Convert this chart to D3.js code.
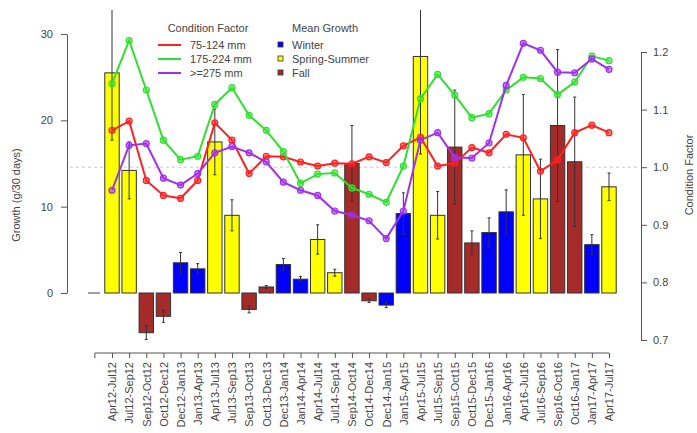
<!DOCTYPE html>
<html>
<head>
<meta charset="utf-8">
<script src="https://cdn.jsdelivr.net/npm/d3@7"></script>
<style>
  body { margin: 0; background: #fff; }
  svg { font-family: "Liberation Sans", Arial, sans-serif; }
  .axis text { fill: #444; font-size: 11px; }
  .axis line, .axis path { stroke: #555; }
</style>
</head>
<body>
<div id="chart"></div>
<script>
"use strict";

var periods = ["Apr12-Jul12", "Jul12-Sep12", "Sep12-Oct12", "Oct12-Dec12", "Dec12-Jan13",
  "Jan13-Apr13", "Apr13-Jul13", "Jul13-Sep13", "Sep13-Oct13", "Oct13-Dec13",
  "Dec13-Jan14", "Jan14-Apr14", "Apr14-Jul14", "Jul14-Sep14", "Sep14-Oct14",
  "Oct14-Dec14", "Dec14-Jan15", "Jan15-Apr15", "Apr15-Jul15", "Jul15-Sep15",
  "Sep15-Oct15", "Oct15-Dec15", "Dec15-Jan16", "Jan16-Apr16", "Apr16-Jul16",
  "Jul16-Sep16", "Sep16-Oct16", "Oct16-Jan17", "Jan17-Apr17", "Apr17-Jul17"];

var season = ["S", "S", "F", "F", "W", "W", "S", "S", "F", "F",
  "W", "W", "S", "S", "F", "F", "W", "W", "S", "S",
  "F", "F", "W", "W", "S", "S", "F", "F", "W", "S"];

var growth = [25.5, 14.2, -4.6, -2.7, 3.5, 2.8, 17.5, 9.0, -1.9, 0.7,
  3.3, 1.6, 6.2, 2.35, 15.0, -0.9, -1.4, 9.2, 27.4, 9.0,
  16.9, 5.8, 7.0, 9.4, 16.0, 10.9, 19.4, 15.2, 5.6, 12.3];

var growthErr = [7.8, 3.3, 0.8, 0.7, 1.2, 0.6, 3.8, 1.8, 0.4, 0.15,
  0.7, 0.3, 1.7, 0.4, 4.4, 0.2, 0.3, 2.4, 11.3, 2.75,
  6.6, 1.4, 1.7, 2.55, 7.0, 4.6, 8.8, 7.5, 1.15, 1.6];

var cf75 = [1.064, 1.080, 0.977, 0.951, 0.946, 0.977, 1.077, 1.047, 0.989, 1.019,
  1.018, 1.009, 1.002, 1.007, 1.006, 1.018, 1.008, 1.037, 1.052, 1.002,
  1.007, 1.034, 1.025, 1.057, 1.051, 0.993, 1.013, 1.060, 1.073, 1.060];

var cf175 = [1.145, 1.220, 1.134, 1.047, 1.013, 1.019, 1.109, 1.138, 1.090, 1.064,
  1.027, 0.972, 0.988, 0.990, 0.964, 0.953, 0.939, 1.002, 1.119, 1.161,
  1.125, 1.086, 1.093, 1.134, 1.156, 1.154, 1.126, 1.148, 1.193, 1.185];

var cf275 = [0.960, 1.038, 1.041, 0.981, 0.969, 0.989, 1.025, 1.036, 1.025, 1.009,
  0.974, 0.960, 0.951, 0.924, 0.917, 0.907, 0.876, 0.924, 1.047, 1.060,
  1.017, 1.016, 1.042, 1.142, 1.215, 1.203, 1.165, 1.164, 1.188, 1.170];

var growthTicks = [0, 10, 20, 30];
var cfTicks = [0.7, 0.8, 0.9, 1.0, 1.1, 1.2];

var seasonNames = { W: "Winter", S: "Spring-Summer", F: "Fall" };
var seasonColor = { W: "#0000ff", S: "#ffff00", F: "#a52a2a" };
var cfSeries = [
  { name: "75-124 mm", values: cf75, color: "#ff2020" },
  { name: "175-224 mm", values: cf175, color: "#30e030" },
  { name: ">=275 mm", values: cf275, color: "#a030f0" }
];

var W = 697, H = 433;
var svg = d3.select("#chart").append("svg").attr("width", W).attr("height", H);

var x = d3.scalePoint().domain(periods).range([112, 609]);
var step = x.step();
var barW = step * 0.84;
var y = d3.scaleLinear().domain([0, 30]).range([293, 34]);
var y2 = d3.scaleLinear().domain([0.7, 1.2]).range([340, 52]);

svg.append("clipPath").attr("id", "plotclip")
  .append("rect").attr("x", 60).attr("y", 10).attr("width", 580).attr("height", 340);

// reference line at CF = 1.0
svg.append("line")
  .attr("x1", 70).attr("x2", 640)
  .attr("y1", y2(1.0)).attr("y2", y2(1.0))
  .attr("stroke", "#ccc").attr("stroke-dasharray", "3,3");

// small zero line
svg.append("line")
  .attr("x1", 88).attr("x2", 100)
  .attr("y1", y(0)).attr("y2", y(0))
  .attr("stroke", "#444");

// bars
svg.append("g").selectAll("rect")
  .data(periods)
  .enter().append("rect")
  .attr("x", function(d) { return x(d) - barW / 2; })
  .attr("width", barW)
  .attr("y", function(d, i) { return y(Math.max(0, growth[i])); })
  .attr("height", function(d, i) { return Math.abs(y(growth[i]) - y(0)); })
  .attr("fill", function(d, i) { return seasonColor[season[i]]; })
  .attr("stroke", "#333").attr("stroke-width", 1);

// error bars
var eg = svg.append("g").attr("clip-path", "url(#plotclip)")
  .attr("stroke", "#333").attr("stroke-width", 1);
periods.forEach(function(p, i) {
  var cx = x(p), lo = y(growth[i] - growthErr[i]), hi = y(growth[i] + growthErr[i]);
  eg.append("line").attr("x1", cx).attr("x2", cx).attr("y1", lo).attr("y2", hi);
  eg.append("line").attr("x1", cx - 1.5).attr("x2", cx + 1.5).attr("y1", lo).attr("y2", lo);
  eg.append("line").attr("x1", cx - 1.5).attr("x2", cx + 1.5).attr("y1", hi).attr("y2", hi);
});

// condition factor lines
var line = d3.line()
  .x(function(d, i) { return x(periods[i]); })
  .y(function(d) { return y2(d); });

cfSeries.forEach(function(s) {
  var g = svg.append("g");
  g.append("path")
    .datum(s.values)
    .attr("d", line)
    .attr("fill", "none")
    .attr("stroke", s.color)
    .attr("stroke-width", 2);
  g.selectAll("circle")
    .data(s.values)
    .enter().append("circle")
    .attr("cx", function(d, i) { return x(periods[i]); })
    .attr("cy", function(d) { return y2(d); })
    .attr("r", 3)
    .attr("fill", s.color).attr("fill-opacity", 0.55)
    .attr("stroke", s.color).attr("stroke-width", 1.2);
});

// left axis
svg.append("g")
  .attr("class", "axis")
  .attr("transform", "translate(67,0)")
  .call(d3.axisLeft(y).tickValues(growthTicks).tickSize(6).tickSizeOuter(0).tickPadding(8));

// right axis
svg.append("g")
  .attr("class", "axis")
  .attr("transform", "translate(641,0)")
  .call(d3.axisRight(y2).tickValues(cfTicks).tickSize(6).tickSizeOuter(0).tickPadding(6)
    .tickFormat(d3.format(".1f")));

// bottom axis
var xa = svg.append("g")
  .attr("class", "axis")
  .attr("transform", "translate(0,353)")
  .call(d3.axisBottom(x).tickSize(5).tickSizeOuter(0).tickPadding(4));
xa.select(".domain").remove();
xa.append("line")
  .attr("x1", x(periods[0]) - step).attr("x2", x(periods[periods.length - 1]))
  .attr("stroke", "#555");
xa.append("line")
  .attr("x1", x(periods[0]) - step).attr("x2", x(periods[0]) - step)
  .attr("y2", 5).attr("stroke", "#555");
xa.selectAll(".tick text")
  .attr("transform", "rotate(-90)")
  .attr("text-anchor", "end")
  .attr("x", -9).attr("y", 0).attr("dy", "0.35em");

// axis titles
svg.append("text")
  .attr("transform", "translate(20,195) rotate(-90)")
  .attr("text-anchor", "middle")
  .attr("font-size", 11).attr("fill", "#444")
  .text("Growth (g/30 days)");
svg.append("text")
  .attr("transform", "translate(693,175) rotate(-90)")
  .attr("text-anchor", "middle")
  .attr("font-size", 11).attr("fill", "#444")
  .text("Condition Factor");

// legends
var lg = svg.append("g").attr("font-size", 11).attr("fill", "#444");
lg.append("text").attr("x", 208).attr("y", 32).attr("text-anchor", "middle").text("Condition Factor");
cfSeries.forEach(function(s, i) {
  var yy = 45 + i * 14;
  lg.append("line").attr("x1", 158).attr("x2", 181).attr("y1", yy).attr("y2", yy)
    .attr("stroke", s.color).attr("stroke-width", 2);
  lg.append("text").attr("x", 190).attr("y", yy + 4).text(s.name);
});
lg.append("text").attr("x", 325).attr("y", 32).attr("text-anchor", "middle").text("Mean Growth");
["W", "S", "F"].forEach(function(k, i) {
  var yy = 45 + i * 14;
  lg.append("rect").attr("x", 278).attr("y", yy - 3).attr("width", 5).attr("height", 5)
    .attr("fill", seasonColor[k]).attr("stroke", "#333").attr("stroke-width", 0.8);
  lg.append("text").attr("x", 292).attr("y", yy + 4).text(seasonNames[k]);
});
</script>
</body>
</html>
